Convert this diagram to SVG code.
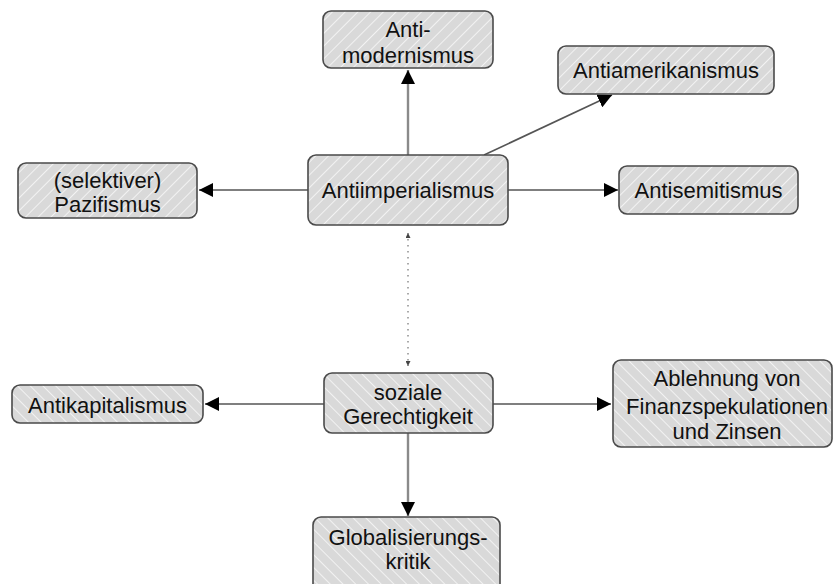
<svg xmlns="http://www.w3.org/2000/svg" width="834" height="584" viewBox="0 0 834 584">
<style>
.box{stroke:#4a4a4a;stroke-width:1.6}
.up{fill:url(#hatchUp)}
.dn{fill:url(#hatchDn)}
text{font-family:"Liberation Sans",Arial,sans-serif;font-size:22px;fill:#111;text-anchor:middle}
.edge{fill:none;stroke:#555;stroke-width:1.6}
.vedge{fill:none;stroke:#8a8a8a;stroke-width:2.4}
.dot{fill:none;stroke:#aaa;stroke-width:2;stroke-dasharray:1.5 4.5}
</style>
<defs>
<pattern id="hatchUp" patternUnits="userSpaceOnUse" width="9" height="9" patternTransform="rotate(45)">
<rect width="9" height="9" fill="#d9d9d9"/>
<line x1="0" y1="0" x2="0" y2="9" stroke="#f2f2f2" stroke-width="2"/>
</pattern>
<pattern id="hatchDn" patternUnits="userSpaceOnUse" width="9" height="9" patternTransform="rotate(-45)">
<rect width="9" height="9" fill="#d9d9d9"/>
<line x1="0" y1="0" x2="0" y2="9" stroke="#f2f2f2" stroke-width="2"/>
</pattern>
<marker id="arr" viewBox="0 0 10 10" refX="10" refY="5" markerWidth="14" markerHeight="14" markerUnits="userSpaceOnUse" orient="auto">
<path d="M0,0 L10,5 L0,10 z" fill="#000"/>
</marker>
<marker id="arrS" viewBox="0 0 10 10" refX="10" refY="5" markerWidth="5" markerHeight="5" markerUnits="userSpaceOnUse" orient="auto">
<path d="M0,0 L10,5 L0,10 z" fill="#444"/>
</marker>
<marker id="arrSs" viewBox="0 0 10 10" refX="0" refY="5" markerWidth="5" markerHeight="5" markerUnits="userSpaceOnUse" orient="auto">
<path d="M10,0 L0,5 L10,10 z" fill="#444"/>
</marker>
</defs>

<g id="connectors">
<line class="vedge" x1="408" y1="155" x2="408" y2="70" marker-end="url(#arr)"/>
<line class="edge" x1="484" y1="155" x2="612" y2="95" marker-end="url(#arr)"/>
<line class="edge" x1="508" y1="190" x2="618" y2="190" marker-end="url(#arr)"/>
<line class="edge" x1="308" y1="190" x2="199" y2="190" marker-end="url(#arr)"/>
<line class="dot" x1="408" y1="233" x2="408" y2="366" marker-start="url(#arrSs)" marker-end="url(#arrS)"/>
<line class="edge" x1="324" y1="404" x2="205" y2="404" marker-end="url(#arr)"/>
<line class="edge" x1="493" y1="404" x2="611" y2="404" marker-end="url(#arr)"/>
<line class="vedge" x1="408" y1="433" x2="408" y2="516" marker-end="url(#arr)"/>
</g>

<g id="antimodernismus">
<rect class="box up" x="323" y="11" width="170" height="57" rx="8"/>
<text x="408" y="37">Anti-</text>
<text x="408" y="63">modernismus</text>
</g>
<g id="antiamerikanismus">
<rect class="box up" x="558" y="46" width="216" height="48" rx="8"/>
<text x="666" y="78">Antiamerikanismus</text>
</g>
<g id="antiimperialismus">
<rect class="box up" x="308" y="155" width="200" height="70" rx="8"/>
<text x="408" y="198">Antiimperialismus</text>
</g>
<g id="pazifismus">
<rect class="box up" x="18" y="163" width="179" height="55" rx="8"/>
<text x="107.5" y="188">(selektiver)</text>
<text x="107.5" y="212">Pazifismus</text>
</g>
<g id="antisemitismus">
<rect class="box up" x="619" y="166" width="179" height="48" rx="8"/>
<text x="708.5" y="198">Antisemitismus</text>
</g>
<g id="soziale">
<rect class="box dn" x="324" y="373" width="169" height="60" rx="8"/>
<text x="408" y="400">soziale</text>
<text x="408" y="424">Gerechtigkeit</text>
</g>
<g id="antikapitalismus">
<rect class="box dn" x="12" y="385" width="191" height="38" rx="8"/>
<text x="107.5" y="413">Antikapitalismus</text>
</g>
<g id="ablehnung">
<rect class="box dn" x="613" y="360" width="219" height="87" rx="8"/>
<text x="727" y="386">Ablehnung von</text>
<text x="727" y="414">Finanzspekulationen</text>
<text x="727" y="439">und Zinsen</text>
</g>
<g id="globalisierung">
<rect class="box dn" x="313" y="517" width="187" height="75" rx="8"/>
<text x="408" y="545">Globalisierungs-</text>
<text x="408" y="569">kritik</text>
</g>
</svg>
